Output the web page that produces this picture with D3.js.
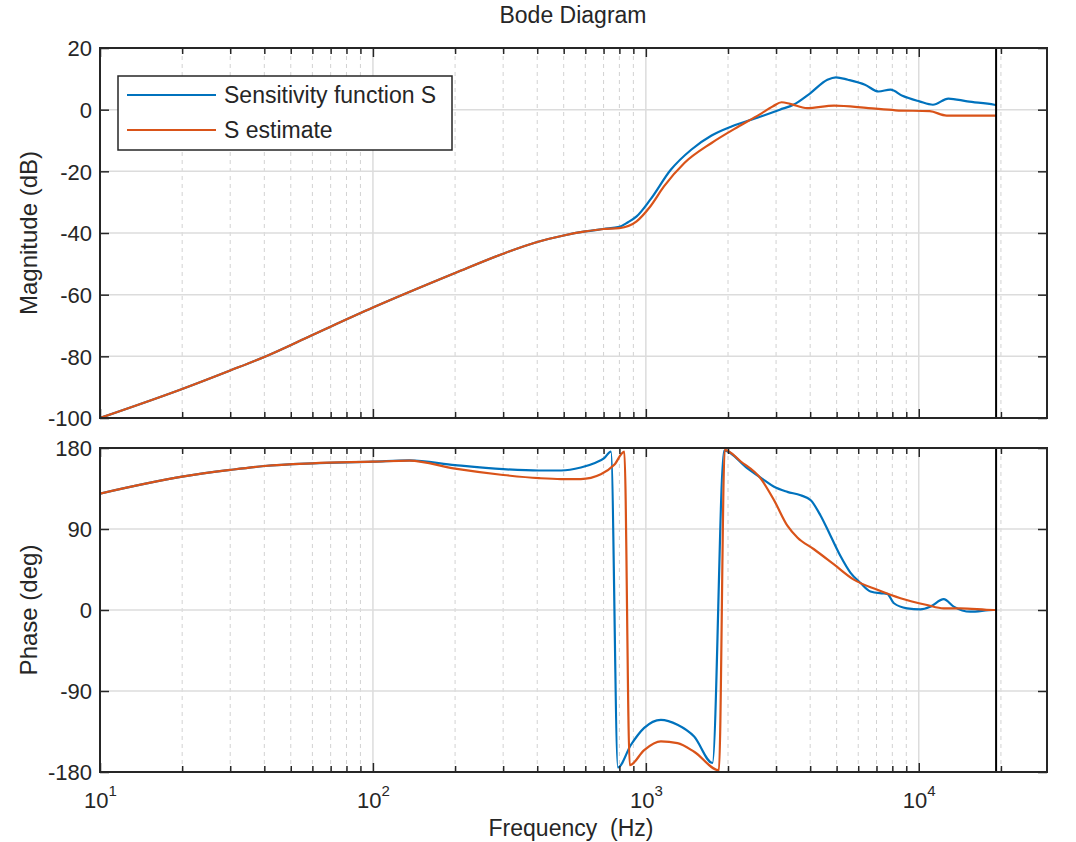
<!DOCTYPE html>
<html>
<head>
<meta charset="utf-8">
<script src="https://cdn.jsdelivr.net/npm/d3@7"></script>
<style>
  body { margin: 0; background: #fff; }
  text { font-family: "Liberation Sans", Arial, Helvetica, sans-serif; fill: #262626; }
  .tick-label { font-size: 22px; }
  .title { font-size: 23px; }
  .axis-label { font-size: 24px; }
  .x-label { font-size: 23px; }
  .legend-text { font-size: 23px; }
</style>
</head>
<body>
<svg id="chart" width="1076" height="842"></svg>
<script>
// values
var magSFreq = [10, 20, 30, 40, 60, 100, 200, 300, 400, 500, 600, 700, 800, 860, 925, 1038, 1234, 1466, 1741,
                2070, 2606, 3097, 3475, 4010, 4626, 4973, 5500, 6350, 7120, 7880, 8710, 10050, 11270, 12840,
                15050, 18920, 19200];
var magSVal = [-100, -90.6, -84.6, -80.2, -73.1, -64.2, -53, -46.7, -42.9, -40.8, -39.5, -38.7, -38.0, -36.5, -34.6,
               -29.2, -19.5, -13, -8.4, -5.4, -2.4, 0, 1.6, 5.4, 9.7, 10.5, 9.7, 8.1, 5.9, 6.5, 4.5, 2.7, 1.6, 3.6,
               2.7, 1.6, 1.5];

var magEstFreq = [10, 20, 30, 40, 60, 100, 200, 300, 400, 500, 600, 700, 800, 925, 1038, 1165, 1384, 1741, 2193,
                  2606, 2925, 3141, 3375, 3897, 4898, 6530, 8220, 10970, 12650, 18920, 19200];
var magEstVal = [-100, -90.6, -84.6, -80.2, -73.1, -64.2, -53, -46.7, -42.9, -40.8, -39.5, -38.7, -38.4, -36.2, -31.4,
                 -24.9, -17.3, -10.8, -5.4, -1.6, 1.1, 2.4, 1.9, 0.5, 1.3, 0.5, -0.2, -0.5, -1.9, -1.9, -1.9];

var phSFreq = [10, 20, 30, 40, 60, 100, 136, 200, 300, 406, 489, 578, 647, 704, 745, 790, 881, 986, 1135, 1306,
               1503, 1754, 1935, 2356, 2711, 2950, 3300, 3690, 4020, 4365, 4750, 5165, 5625, 6120, 6655, 7300,
               7660, 8110, 9060, 10140, 11040, 12340, 13430, 15450, 18790, 19200];
var phSVal = [129.3, 148.1, 155.6, 160, 163, 164.8, 166.3, 161, 156.5, 155, 155, 158.3, 163, 168.8, 176, -175, -150,
              -131, -122, -127.5, -140.6, -170, 177, 157.5, 144.4, 136.9, 131.3, 127.5, 121.9, 105, 82.5, 60, 41.3,
              30, 20.6, 18.5, 18, 7.5, 1.9, 0.75, 3.75, 12, 3.75, -1.9, 0, 0];

var phEstFreq = [10, 20, 30, 40, 60, 100, 136, 200, 300, 406, 489, 578, 684, 766, 834, 873, 986, 1135, 1306, 1503,
                 1853, 1945, 2228, 2636, 2950, 3300, 3590, 4130, 4890, 5780, 7050, 8570, 10720, 12340, 14190,
                 18790, 19200];
var phEstVal = [129.3, 148.1, 155.6, 160, 163, 164.8, 166, 157, 150, 146.5, 145.5, 145.5, 150.8, 161.3, 176, -172.5,
                -155.6, -146, -148, -157.5, -178, 178, 165, 146, 121.9, 93.75, 80.6, 67.5, 50.6, 33.75, 22.5, 13.1,
                5.6, 1.9, 1.9, 0, 0];

var seriesNames = ["Sensitivity function S", "S estimate"];
var magTicks = [-100, -80, -60, -40, -20, 0, 20];
var phTicks = [-180, -90, 0, 90, 180];
var decadeExps = [1, 2, 3, 4];
var nyquist = 19200;
var xMin = 10, xMax = 29500;

var colors = ["#0072BD", "#D95319"];

var left = 100, right = 1047,
    magTop = 48, magBottom = 418,
    phTop = 448, phBottom = 772;

var svg = d3.select("#chart");

var x = d3.scaleLog().domain([xMin, xMax]).range([left, right]);
var yMag = d3.scaleLinear().domain([-100, 20]).range([magBottom, magTop]);
var yPh = d3.scaleLinear().domain([-180, 180]).range([phBottom, phTop]);

var majorX = decadeExps.map(function(e) { return Math.pow(10, e); });
var minorX = [];
decadeExps.forEach(function(e) {
  for (var k = 2; k <= 9; k++) {
    var f = k * Math.pow(10, e);
    if (f < xMax) minorX.push(f);
  }
});

function panel(id, y, top, bottom, yTicks, series, showXLabels) {
  var g = svg.append("g").attr("class", id);

  g.append("clipPath").attr("id", "clip-" + id)
    .append("rect")
    .attr("x", left).attr("y", top)
    .attr("width", right - left).attr("height", bottom - top);

  // grid
  g.selectAll(".gminor").data(minorX).enter().append("line")
    .attr("x1", function(d) { return x(d); }).attr("x2", function(d) { return x(d); })
    .attr("y1", top).attr("y2", bottom)
    .attr("stroke", "#d2d2d2").attr("stroke-width", 1).attr("stroke-dasharray", "4,4");
  g.selectAll(".gmajor").data(majorX).enter().append("line")
    .attr("x1", function(d) { return x(d); }).attr("x2", function(d) { return x(d); })
    .attr("y1", top).attr("y2", bottom)
    .attr("stroke", "#dcdcdc").attr("stroke-width", 1.5);
  g.selectAll(".gy").data(yTicks).enter().append("line")
    .attr("x1", left).attr("x2", right)
    .attr("y1", function(d) { return y(d); }).attr("y2", function(d) { return y(d); })
    .attr("stroke", "#dcdcdc").attr("stroke-width", 1.5);

  // data
  var line = d3.line()
    .x(function(d) { return x(d[0]); })
    .y(function(d) { return y(d[1]); })
    .curve(d3.curveMonotoneX);

  g.append("g").attr("clip-path", "url(#clip-" + id + ")")
    .selectAll("path").data(series).enter().append("path")
    .attr("d", function(d) { return line(d3.zip(d.f, d.v)); })
    .attr("fill", "none")
    .attr("stroke", function(d, i) { return colors[i]; })
    .attr("stroke-width", 2.2)
    .attr("stroke-linejoin", "round");

  // nyquist line
  g.append("line")
    .attr("x1", x(nyquist)).attr("x2", x(nyquist))
    .attr("y1", top).attr("y2", bottom)
    .attr("stroke", "#000").attr("stroke-width", 2);

  // ticks (inside, all four sides)
  var axB = g.append("g").attr("transform", "translate(0," + bottom + ")")
    .call(d3.axisBottom(x).tickValues(majorX).tickSize(-9).tickSizeOuter(0).tickFormat(""));
  g.append("g").attr("transform", "translate(0," + bottom + ")")
    .call(d3.axisBottom(x).tickValues(minorX).tickSize(-6).tickSizeOuter(0).tickFormat(""));
  g.append("g").attr("transform", "translate(0," + top + ")")
    .call(d3.axisTop(x).tickValues(majorX).tickSize(-9).tickSizeOuter(0).tickFormat(""));
  g.append("g").attr("transform", "translate(0," + top + ")")
    .call(d3.axisTop(x).tickValues(minorX).tickSize(-6).tickSizeOuter(0).tickFormat(""));
  var axL = g.append("g").attr("transform", "translate(" + left + ",0)")
    .call(d3.axisLeft(y).tickValues(yTicks).tickSize(-9).tickSizeOuter(0).tickPadding(8)
      .tickFormat(function(d) { return String(d); }));
  g.append("g").attr("transform", "translate(" + right + ",0)")
    .call(d3.axisRight(y).tickValues(yTicks).tickSize(-9).tickSizeOuter(0).tickFormat(""));

  g.selectAll(".domain").remove();
  g.selectAll(".tick line").attr("stroke", "#262626").attr("stroke-width", 1.5);

  axL.selectAll(".tick text")
    .attr("class", "tick-label")
    .attr("dy", "0.36em");

  if (showXLabels) {
    var t = axB.selectAll(".tick").append("text")
      .attr("class", "tick-label")
      .attr("y", 36)
      .attr("text-anchor", "middle");
    t.append("tspan").text("10");
    t.append("tspan")
      .attr("dy", -12)
      .style("font-size", "15px")
      .text(function(d) { return Math.round(Math.log10(d)); });
  }

  // frame
  g.append("rect")
    .attr("x", left).attr("y", top)
    .attr("width", right - left).attr("height", bottom - top)
    .attr("fill", "none").attr("stroke", "#262626").attr("stroke-width", 2);

  return g;
}

panel("mag", yMag, magTop, magBottom, magTicks,
      [{f: magSFreq, v: magSVal}, {f: magEstFreq, v: magEstVal}], false);
panel("phase", yPh, phTop, phBottom, phTicks,
      [{f: phSFreq, v: phSVal}, {f: phEstFreq, v: phEstVal}], true);

// titles
svg.append("text").attr("class", "title")
  .attr("x", 573).attr("y", 23).attr("text-anchor", "middle")
  .text("Bode Diagram");
svg.append("text").attr("class", "x-label")
  .attr("x", 571).attr("y", 836).attr("text-anchor", "middle")
  .text("Frequency\u00a0 (Hz)");
svg.append("text").attr("class", "axis-label")
  .attr("transform", "translate(37," + (magTop + magBottom) / 2 + ") rotate(-90)")
  .attr("text-anchor", "middle")
  .text("Magnitude (dB)");
svg.append("text").attr("class", "axis-label")
  .attr("transform", "translate(37," + (phTop + phBottom) / 2 + ") rotate(-90)")
  .attr("text-anchor", "middle")
  .text("Phase (deg)");

// legend
var legend = svg.append("g").attr("class", "legend");
legend.append("rect")
  .attr("x", 118).attr("y", 76).attr("width", 334).attr("height", 74)
  .attr("fill", "#fff").attr("stroke", "#262626").attr("stroke-width", 1.5);
var items = legend.selectAll(".item").data(seriesNames).enter().append("g")
  .attr("transform", function(d, i) { return "translate(0," + (95 + i * 35) + ")"; });
items.append("line")
  .attr("x1", 127).attr("x2", 216)
  .attr("stroke", function(d, i) { return colors[i]; })
  .attr("stroke-width", 2.2);
items.append("text").attr("class", "legend-text")
  .attr("x", 224).attr("dy", "0.36em")
  .text(function(d) { return d; });
</script>
</body>
</html>
